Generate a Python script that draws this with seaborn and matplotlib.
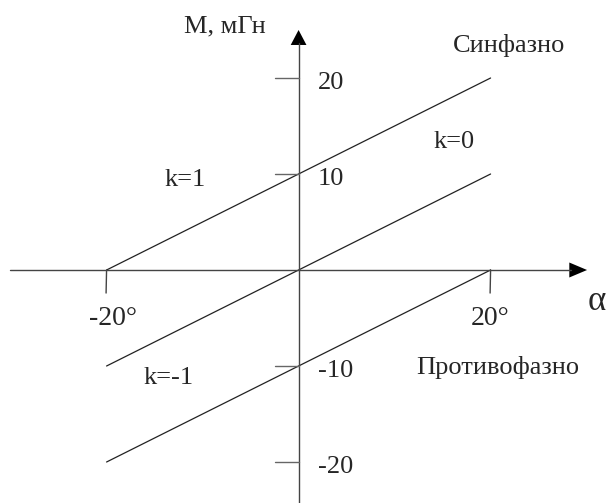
"""
Mutual inductance M vs angle alpha for three coupling cases (k = 1, 0, -1).
Output : out.png
"""

import pandas as pd
import matplotlib
matplotlib.use('Agg')
import matplotlib.pyplot as plt
import seaborn as sns

# ── Data ──────────────────────────────────────────────────────
alpha = [-20, 20]
m_k1 = [0, 20]       # синфазно
m_k0 = [-10, 10]
m_km1 = [-20, 0]     # противофазно

y_ticks = [-20, -10, 10, 20]
y_tick_labels = ['-20', '-10', '10', '20']
x_ticks = [-20, 20]
x_tick_labels = ['-20°', '20°']

LINE = '#222222'
AXIS = '#444444'
FS = 19

df = pd.DataFrame({
    'alpha': alpha * 3,
    'M': m_k1 + m_k0 + m_km1,
    'k': ['1'] * 2 + ['0'] * 2 + ['-1'] * 2,
})

sns.set_style('white')
plt.rcParams['font.family'] = ['Liberation Serif', 'DejaVu Serif']

fig = plt.figure(figsize=(6.08, 5.03), dpi=100)
ax = fig.add_axes([0, 0, 1, 1])
ax.set_xlim(-31.1, 32.23)
ax.set_ylim(-24.27, 28.125)
ax.axis('off')

# three lines
sns.lineplot(data=df, x='alpha', y='M', units='k', estimator=None,
             color=LINE, linewidth=0.9, ax=ax, legend=False)

# ── Axes with arrows ──────────────────────────────────────────
ax.plot([-30.1, 28.4], [0, 0], color=AXIS, linewidth=1.0)
ax.plot([0, 0], [-24.3, 23.6], color=AXIS, linewidth=1.0)
ax.fill([28.2, 30.05, 28.2], [0.78, 0, -0.78], color='black', lw=0)
ax.fill([-0.82, 0, 0.82], [23.44, 25.0, 23.44], color='black', lw=0)

# ticks
for yt, lab in zip(y_ticks, y_tick_labels):
    ax.plot([-2.5, 0], [yt, yt], color='#666666', linewidth=1.0)
    ax.text(2.0, yt - 0.5, lab, fontsize=FS, ha='left', va='center')
for xt, lab in zip(x_ticks, x_tick_labels):
    ax.plot([xt, xt - 0.05], [0, -2.4], color=AXIS, linewidth=1.0)
    ax.text(xt + 0.7 * (xt < 0), -5.0, lab, fontsize=FS + 1, ha='center', va='center')

# ── Labels ────────────────────────────────────────────────────
ax.text(-7.67, 25.4, 'М, мГн', fontsize=FS, ha='center', va='center')
ax.text(31.1, -3.33, 'α', fontsize=25, ha='center', va='center')
ax.text(21.9, 23.4, 'Синфазно', fontsize=FS, ha='center', va='center')
ax.text(20.7, -10.2, 'Противофазно', fontsize=FS, ha='center', va='center')
ax.text(-11.8, 9.4, 'k=1', fontsize=FS, ha='center', va='center')
ax.text(16.2, 13.3, 'k=0', fontsize=FS, ha='center', va='center')
ax.text(-13.5, -11.3, 'k=-1', fontsize=FS, ha='center', va='center')

plt.savefig('out.png', dpi=100, facecolor='white')
